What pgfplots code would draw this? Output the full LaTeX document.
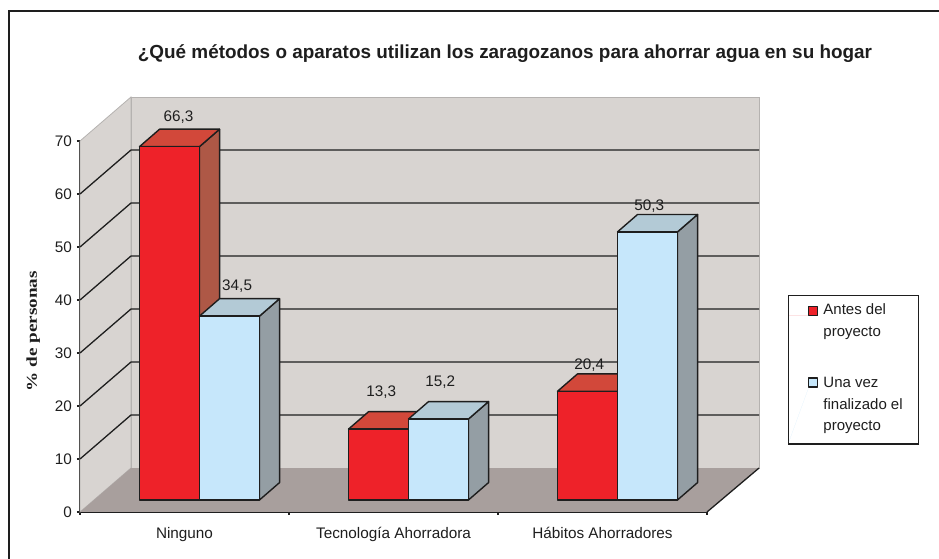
\documentclass[border=0pt]{standalone}
\usepackage{fontspec}
\setmainfont{Liberation Sans}
\newfontfamily\ylabfont{Liberation Serif}
\usepackage{pgfplots}
\usepackage{pgfplotstable}
\pgfplotsset{compat=1.18}
\definecolor{wallc}{HTML}{D8D4D1}
\definecolor{wallline}{HTML}{B5B2B0}
\definecolor{floorc}{HTML}{A89F9D}
\definecolor{redf}{HTML}{EE2229}
\definecolor{redt}{HTML}{D2483A}
\definecolor{reds}{HTML}{AE5846}
\definecolor{bluef}{HTML}{C6E7FB}
\definecolor{bluet}{HTML}{B3CAD6}
\definecolor{blues}{HTML}{949EA4}
\definecolor{ink}{HTML}{1E1E1E}
\pgfplotstableread{
x y
0 66.3
1 13.3
2 20.4
}\antes
\pgfplotstableread{
x y
0 34.5
1 15.2
2 50.3
}\despues
\begin{document}
\begin{tikzpicture}
\path[use as bounding box] (0pt,0pt) rectangle (939pt,559pt);
\draw[ink,line width=2.4pt] (9pt,0pt) -- (9pt,548pt) -- (939pt,548pt);
\node[font=\fontsize{18.9}{22}\selectfont\bfseries,text=ink] at (505pt,505pt)
  {¿Qué métodos o aparatos utilizan los zaragozanos para ahorrar agua en su hogar};
% frame axis: walls, floor, grid lines, ticks
\begin{axis}[
  at={(80pt,47pt)},anchor=south west,
  scale only axis,width=627pt,height=371pt,
  xmin=0,xmax=3,ymin=0,ymax=70,clip=false,
  axis x line=bottom,axis y line=left,
  axis line style={-,ink,line width=1.2pt},
  tick style={ink,line width=1.2pt},
  major tick length=6pt,
  xtick={0,1,2,3},
  xticklabels={Ninguno,Tecnología Ahorradora,Hábitos Ahorradores},
  x tick label as interval=true,
  ytick={0,10,...,70},
  /pgf/number format/assume math mode=true,
  tick label style={font=\fontsize{15.3}{18}\selectfont,text=ink},
  x tick label style={yshift=-9pt},
  y tick label style={xshift=-1.5pt},
  ylabel={\ylabfont\bfseries\% de personas},
  ylabel style={font=\fontsize{15}{18}\selectfont,text=ink,xscale=1.28,at={(axis description cs:-0.0745,0.487)},anchor=center},
]
\addplot[fill=wallc,draw=wallline,line width=0.8pt] coordinates {(0,0)(0.244,8.3)(0.244,78.3)(0,70)} -- cycle;
\addplot[fill=wallc,draw=wallline,line width=0.8pt] coordinates {(0.244,8.3)(3.249,8.3)(3.249,78.3)(0.244,78.3)} -- cycle;
\addplot[fill=floorc,draw=none] coordinates {(0,0)(3,0)(3.249,8.3)(0.244,8.3)} -- cycle;
\addplot[ink,line width=1.3pt] coordinates {(3,0)(3.249,8.3)};
\addplot[ink,line width=1.3pt] coordinates {(0,10)(0.244,18.3)(3.249,18.3)};
\addplot[ink,line width=1.3pt] coordinates {(0,20)(0.244,28.3)(3.249,28.3)};
\addplot[ink,line width=1.3pt] coordinates {(0,30)(0.244,38.3)(3.249,38.3)};
\addplot[ink,line width=1.3pt] coordinates {(0,40)(0.244,48.3)(3.249,48.3)};
\addplot[ink,line width=1.3pt] coordinates {(0,50)(0.244,58.3)(3.249,58.3)};
\addplot[ink,line width=1.3pt] coordinates {(0,60)(0.244,68.3)(3.249,68.3)};
\end{axis}
% bar axis: 0 of the bars stands on the floor
\begin{axis}[
  at={(95pt,59pt)},anchor=south west,
  scale only axis,width=627pt,height=373.1pt,
  xmin=-0.5,xmax=2.5,ymin=0,ymax=70,clip=false,
  hide axis,
  legend style={at={(1.1057,0.5495)},anchor=north west,draw=ink,line width=1.2pt,fill=white,
    inner xsep=0pt,inner ysep=2pt,row sep=31pt,column sep=3pt,
    font=\fontsize{15}{21.5}\selectfont,text=ink},
  legend cell align=left,
]
\pgfplotsset{every axis plot/.append style={draw=ink,line width=1.4pt,line join=round}}
% red series: side, top, front
\addplot[fill=reds,forget plot] coordinates {(0,0)(0.096,3.27)(0.096,69.57)(0,66.3)} -- cycle;
\addplot[fill=redt,forget plot] coordinates {(-0.287,66.3)(-0.191,69.57)(0.096,69.57)(0,66.3)} -- cycle;
\addplot[fill=redt,forget plot] coordinates {(0.713,13.3)(0.809,16.57)(1.096,16.57)(1,13.3)} -- cycle;
\addplot[fill=redt,forget plot] coordinates {(1.713,20.4)(1.809,23.67)(2.096,23.67)(2,20.4)} -- cycle;
\addplot[ybar,bar width=60.1pt,bar shift=-30pt,fill=redf,
  legend image code/.code={\path[draw=none] (-20pt,3pt) -- (0pt,3pt);\draw[draw=ink,line width=1.2pt,fill=redf] (0pt,3pt) rectangle (9pt,12pt);}]
  table[x=x,y=y] {\antes};
\addlegendentry{\begin{tabular}[b]{@{}l@{\hspace{14pt}}}Antes del\\proyecto\end{tabular}}
% blue series
\addplot[fill=blues,forget plot] coordinates {(0.287,0)(0.383,3.27)(0.383,37.77)(0.287,34.5)} -- cycle;
\addplot[fill=blues,forget plot] coordinates {(1.287,0)(1.383,3.27)(1.383,18.47)(1.287,15.2)} -- cycle;
\addplot[fill=blues,forget plot] coordinates {(2.287,0)(2.383,3.27)(2.383,53.57)(2.287,50.3)} -- cycle;
\addplot[fill=bluet,forget plot] coordinates {(0,34.5)(0.096,37.77)(0.383,37.77)(0.287,34.5)} -- cycle;
\addplot[fill=bluet,forget plot] coordinates {(1,15.2)(1.096,18.47)(1.383,18.47)(1.287,15.2)} -- cycle;
\addplot[fill=bluet,forget plot] coordinates {(2,50.3)(2.096,53.57)(2.383,53.57)(2.287,50.3)} -- cycle;
\addplot[ybar,bar width=60.1pt,bar shift=30pt,fill=bluef,
  legend image code/.code={\path[draw=none] (-20pt,-39.5pt) -- (0pt,15.5pt);\draw[draw=ink,line width=1.2pt,fill=bluef] (0pt,15.5pt) rectangle (9pt,24.5pt);}]
  table[x=x,y=y] {\despues};
\addlegendentry{\begin{tabular}[b]{@{}l@{\hspace{14pt}}}Una vez\\finalizado el\\proyecto\end{tabular}}
% data labels
\tikzset{lab/.style={font=\fontsize{15.3}{18}\selectfont,text=ink,inner sep=0pt}}
\node[lab] at (axis cs:-0.1,71.8) {66,3};
\node[lab] at (axis cs:0.18,40.1) {34,5};
\node[lab] at (axis cs:0.87,20.3) {13,3};
\node[lab] at (axis cs:1.152,22.1) {15,2};
\node[lab] at (axis cs:1.865,25.3) {20,4};
\node[lab] at (axis cs:2.152,55.2) {50,3};
\end{axis}
\end{tikzpicture}
\end{document}
